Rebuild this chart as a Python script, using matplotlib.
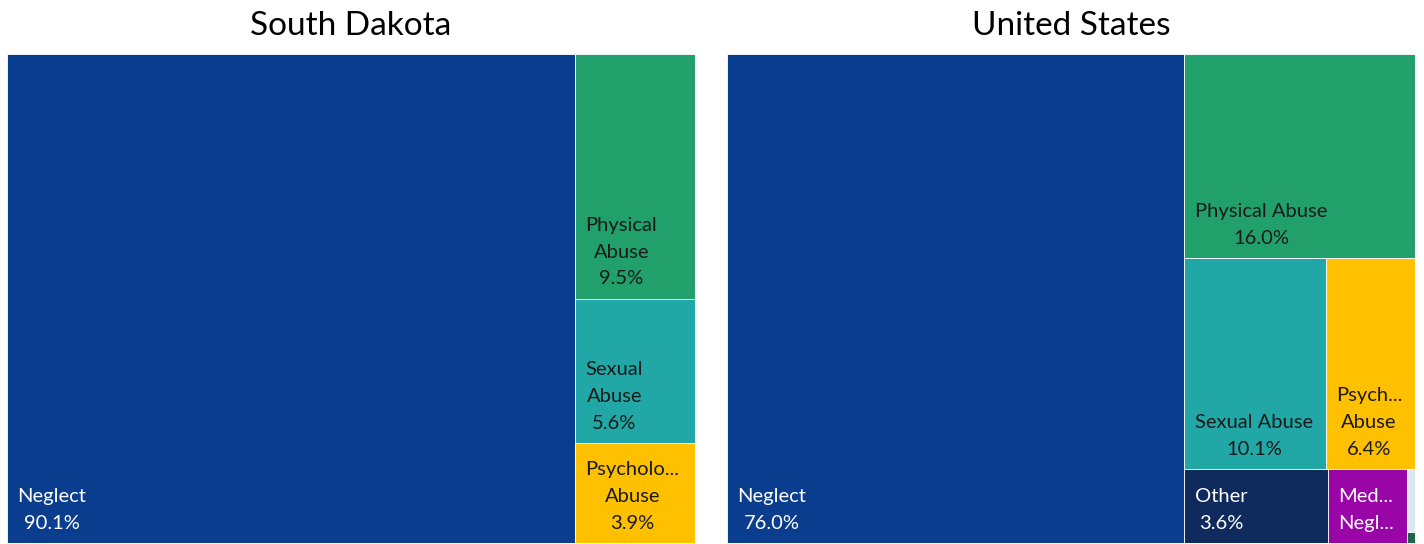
import matplotlib
matplotlib.use("Agg")
import matplotlib.pyplot as plt
from matplotlib.patches import Rectangle

plt.rcParams['font.family'] = ['Lato', 'DejaVu Sans']

# ---- data ----
sd_title = "South Dakota"
sd_categories = ["Neglect", "Physical Abuse", "Sexual Abuse", "Psychological Abuse"]
sd_values = [90.1, 9.5, 5.6, 3.9]
sd_labels = ["Neglect\n90.1%", "Physical\nAbuse\n9.5%", "Sexual\nAbuse\n5.6%", "Psycholo...\nAbuse\n3.9%"]

us_title = "United States"
us_categories = ["Neglect", "Physical Abuse", "Sexual Abuse", "Psychological Abuse",
                 "Other", "Medical Neglect", "Sex Trafficking", "Unknown"]
us_values = [76.0, 16.0, 10.1, 6.4, 3.6, 2.0, 0.17, 0.03]
us_labels = ["Neglect\n76.0%", "Physical Abuse\n16.0%", "Sexual Abuse\n10.1%", "Psych...\nAbuse\n6.4%",
             "Other\n3.6%", "Med...\nNegl...", "", ""]

colors = {
    "Neglect": "#0B3D8E",
    "Physical Abuse": "#21A06C",
    "Sexual Abuse": "#21A8A6",
    "Psychological Abuse": "#FFC000",
    "Other": "#0F2B5E",
    "Medical Neglect": "#9A05A8",
    "Sex Trafficking": "#DDE7EF",
    "Unknown": "#1D6647",
}
dark_text = {"Physical Abuse", "Sexual Abuse", "Psychological Abuse"}

# nesting of the treemap slices ('h' = side by side, 'v' = stacked top->bottom)
sd_tree = ('h', [0, ('v', [1, 2, 3])])
us_tree = ('h', [0, ('v', [1, ('h', [2, 3]), ('h', [4, 5, ('v', [6, 7])])])])


def total(node, vals):
    if isinstance(node, int):
        return vals[node]
    return sum(total(c, vals) for c in node[1])


def layout(node, vals, x, y, w, h, out):
    # y is top edge in axes coords (top = 1)
    if isinstance(node, int):
        out[node] = (x, y - h, w, h)
        return
    kind, children = node
    tot = total(node, vals)
    if kind == 'h':
        cx = x
        for c in children:
            cw = w * total(c, vals) / tot
            layout(c, vals, cx, y, cw, h, out)
            cx += cw
    else:
        cy = y
        for c in children:
            ch = h * total(c, vals) / tot
            layout(c, vals, x, cy, w, ch, out)
            cy -= ch


W, H = 14.24, 5.44
fig = plt.figure(figsize=(W, H), dpi=100)


def draw(ax_rect, title, cats, vals, labels, tree):
    ax = fig.add_axes(ax_rect)
    ax.set_xlim(0, 1)
    ax.set_ylim(0, 1)
    ax.axis('off')
    rects = {}
    layout(tree, vals, 0, 1, 1, 1, rects)
    for i, cat in enumerate(cats):
        x0, y0, w, h = rects[i]
        ax.add_patch(Rectangle((x0, y0), w, h, facecolor=colors[cat],
                               edgecolor='white', linewidth=0.6))
        if labels[i]:
            tc = '#1a1a1a' if cat in dark_text else 'white'
            ax.annotate(labels[i], xy=(x0, y0), xytext=(7.5, 8),
                        textcoords='offset points', ha='left', va='bottom',
                        multialignment='center', fontsize=14.5, color=tc,
                        linespacing=1.7)
    ax.set_title(title, fontsize=24, pad=14, color='black')


draw([7 / 1424, 1 / 544, 688 / 1424, 489 / 544], sd_title, sd_categories, sd_values, sd_labels, sd_tree)
draw([727 / 1424, 1 / 544, 688 / 1424, 489 / 544], us_title, us_categories, us_values, us_labels, us_tree)

fig.savefig("out.png", dpi=100, facecolor='white')
